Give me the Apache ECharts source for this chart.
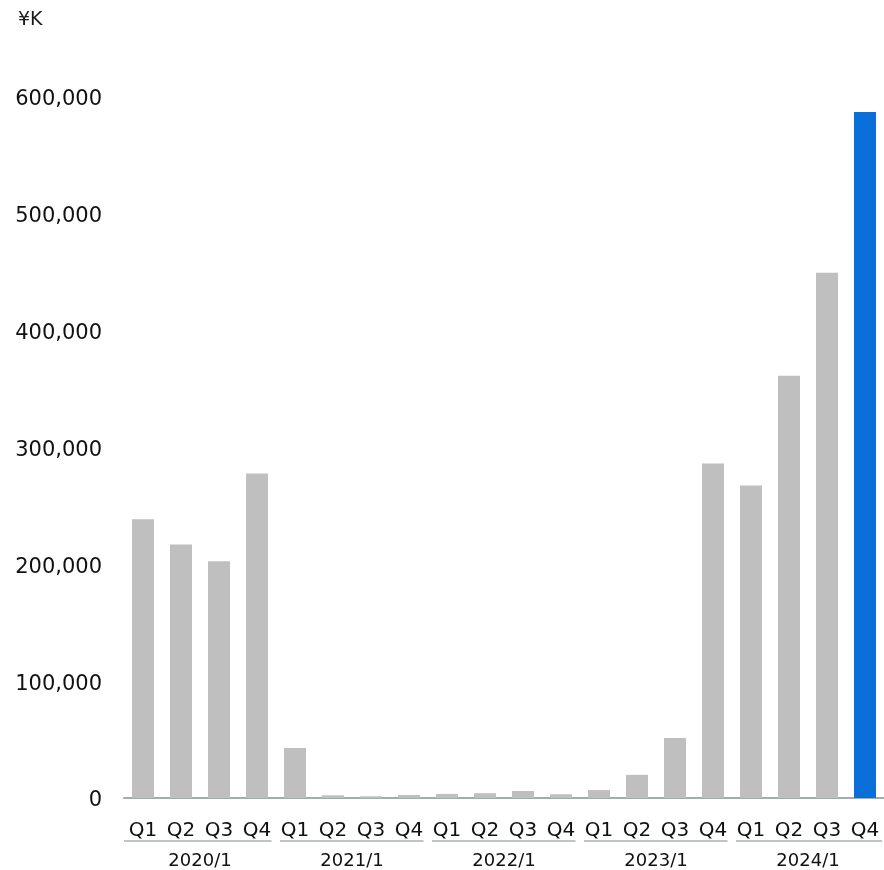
<!DOCTYPE html>
<html>
<head>
<meta charset="utf-8">
<script src="https://cdn.jsdelivr.net/npm/echarts@6/dist/echarts.min.js"></script>
<style>
  html, body { margin: 0; padding: 0; background: #ffffff; }
  #chart { width: 884px; height: 870px; }
</style>
</head>
<body>
<div id="chart"></div>
<script>
// ---- data ----
var quarters = ['Q1','Q2','Q3','Q4','Q1','Q2','Q3','Q4','Q1','Q2','Q3','Q4','Q1','Q2','Q3','Q4','Q1','Q2','Q3','Q4'];
var years = ['2020/1', '2021/1', '2022/1', '2023/1', '2024/1'];
var values = [
  238500, 217000, 202600, 277800,
  42700, 2300, 1500, 2600,
  3500, 4100, 6000, 3200,
  6800, 19800, 51300, 286300,
  267500, 361500, 449600, 587200
];
var highlightIndex = 19;
var yTicks = { min: 0, max: 600000, interval: 100000 };
var unitLabel = '¥K';

var FONT = 'DejaVu Sans';
var GRAY = '#bfbfbf';
var BLUE = '#0a6fd9';

// group ranges (start, end category index) derived from years
var groups = years.map(function (y, i) { return [i * 4, i * 4 + 3]; });

var barData = values.map(function (v, i) {
  return { value: v, itemStyle: { color: i === highlightIndex ? BLUE : GRAY } };
});

var chart = echarts.init(document.getElementById('chart'), null, { renderer: 'canvas' });
chart.setOption({
  animation: false,
  backgroundColor: '#ffffff',
  title: {
    text: unitLabel,
    left: 13,
    top: 6,
    textStyle: { fontFamily: FONT, fontSize: 19, fontWeight: 'normal', color: '#1a1a1a' }
  },
  grid: { left: 124, right: 0, top: 97, bottom: 71, containLabel: false },
  xAxis: [
    {
      type: 'category',
      data: quarters,
      position: 'bottom',
      axisLine: { show: true, lineStyle: { color: '#a3abab', width: 2 } },
      axisTick: { show: false },
      axisLabel: { fontFamily: FONT, fontSize: 20, color: '#111', margin: 23, interval: 0 },
      splitLine: { show: false }
    },
    {
      type: 'category',
      data: years,
      position: 'bottom',
      axisLine: { show: false },
      axisTick: { show: false },
      axisLabel: { fontFamily: FONT, fontSize: 18, color: '#111', margin: 54, interval: 0 },
      splitLine: { show: false }
    }
  ],
  yAxis: {
    type: 'value',
    min: yTicks.min,
    max: yTicks.max,
    interval: yTicks.interval,
    axisLine: { show: false },
    axisTick: { show: false },
    splitLine: { show: false },
    axisLabel: {
      fontFamily: FONT, fontSize: 21, color: '#111', margin: 22,
      formatter: function (v) { return '{n|' + v.toLocaleString('en-US') + '}'; },
      rich: {
        n: { fontFamily: FONT, fontSize: 21, color: '#111', padding: [6, 0, 0, 0] }
      }
    }
  },
  series: [
    {
      type: 'bar',
      xAxisIndex: 0,
      data: barData,
      barWidth: 22
    },
    {
      type: 'custom',
      xAxisIndex: 0,
      clip: false,
      silent: true,
      data: groups,
      renderItem: function (params, api) {
        var s = api.value(0), e = api.value(1);
        var bw = api.size([1, 0])[0];
        var p0 = api.coord([s, 0]);
        var p1 = api.coord([e, 0]);
        var x0 = p0[0] - bw / 2 + (params.dataIndex === 0 ? 0 : 4);
        var x1 = p1[0] + bw / 2 - (params.dataIndex === groups.length - 1 ? 2 : 4.5);
        var y = p0[1] + 43;
        return {
          type: 'line',
          shape: { x1: x0, y1: y, x2: x1, y2: y },
          style: { stroke: '#aab2b2', lineWidth: 1.5 }
        };
      }
    }
  ]
});
</script>
</body>
</html>
